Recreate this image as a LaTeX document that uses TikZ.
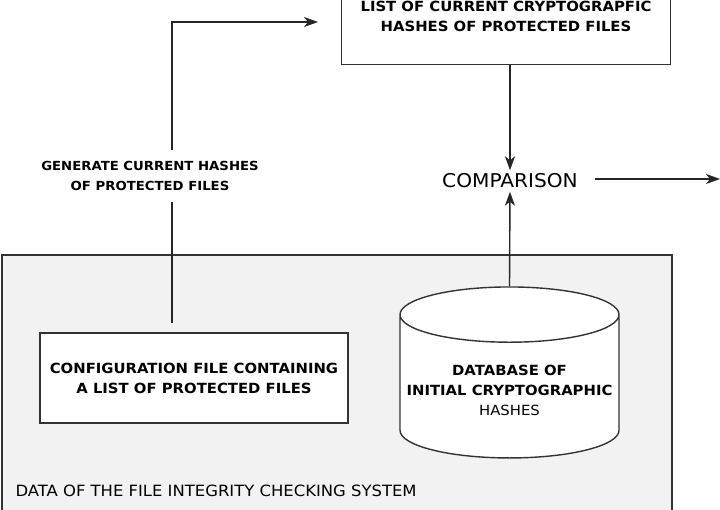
\documentclass[tikz,border=0pt]{standalone}
\usepackage{fontspec}
\setmainfont{DejaVu Sans}[FakeStretch=1.06]
\usetikzlibrary{shapes.geometric,arrows.meta,positioning}
\begin{document}
\begin{tikzpicture}[x=1pt,y=-1pt,
  box/.style={rectangle, draw=black!80, line width=1.4pt, fill=white, align=center, font=\bfseries\fontsize{14}{20}\selectfont},
  plain/.style={align=center, font=\fontsize{14}{20}\selectfont},
  arr/.style={-{Stealth[length=14pt,width=10pt,inset=4pt]}, line width=1.4pt, black!85}
]
\useasboundingbox (0,0) rectangle (720,510);
\fill[black!5, draw=black!80, line width=1.4pt] (2,255) rectangle (672,515);
\node[plain, anchor=west, font=\fontsize{15.5}{16}\selectfont] (datalbl) at (12,491) {DATA OF THE FILE INTEGRITY CHECKING SYSTEM};

% boxes
\node[box, anchor=south, minimum width=329pt, inner ysep=33pt] (curr) at (506,65)
  {LIST OF CURRENT CRYPTOGRAPFIC\\HASHES OF PROTECTED FILES};
\node[box, minimum width=308pt, minimum height=90pt] (conf) at (194,378)
  {CONFIGURATION FILE CONTAINING\\A LIST OF PROTECTED FILES};
\node[cylinder, shape border rotate=90, draw=black!80, line width=1.4pt, fill=white, aspect=0.26,
  minimum width=219pt, minimum height=171pt, align=center, font=\fontsize{14}{20}\selectfont] (db) at (509.5,390)
  {\bfseries DATABASE OF\\\bfseries INITIAL CRYPTOGRAPHIC\\HASHES};
\node[plain, font=\fontsize{19}{20}\selectfont] (cmp) at (510,181) {COMPARISON};
\node[plain, font=\bfseries\fontsize{12.5}{20}\selectfont] (gen) at (150,176) {GENERATE CURRENT HASHES\\OF PROTECTED FILES};
\coordinate (out) at (720,179);

% connectors
\draw[arr] (curr.south -| cmp) -- (cmp.north);
\draw[arr] (db.top) -- (cmp.south);
\draw[arr] (595,179) -- (out);
\draw[line width=1.4pt, black!85] (172,323) -- (172,202);
\draw[arr] (172,150) -- (172,22) -- (318,22);
\end{tikzpicture}
\end{document}
